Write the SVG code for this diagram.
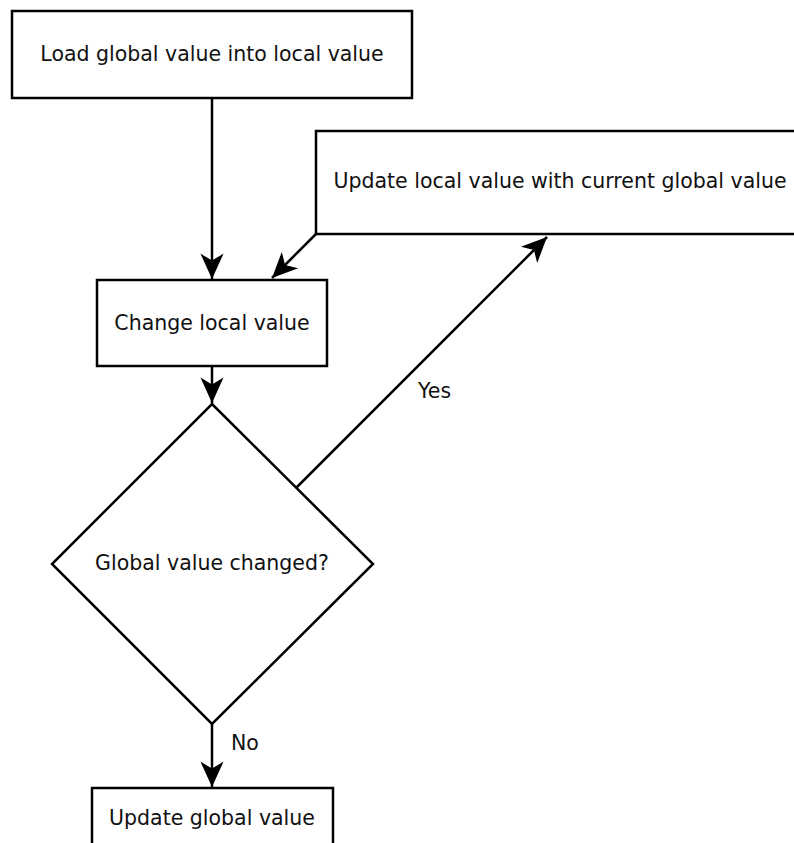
<svg xmlns="http://www.w3.org/2000/svg" width="794" height="843" viewBox="0 0 794 843">
  <style>
    .shape { fill: #ffffff; stroke: #000000; stroke-width: 2.5; }
    .edge { fill: none; stroke: #000000; stroke-width: 2.5; marker-end: url(#arrow); }
    text { font-family: "DejaVu Sans", "Liberation Sans", sans-serif; font-size: 20.5px; fill: #111111; text-anchor: middle; dominant-baseline: central; }
    .lbl { text-anchor: start; }
  </style>
  <defs>
    <marker id="arrow" markerUnits="userSpaceOnUse" markerWidth="30" markerHeight="30" viewBox="-24 -12 26 24" refX="0" refY="0" orient="auto">
      <path d="M0,0 L-22,-10 L-16,0 L-22,10 z" fill="#000000"/>
    </marker>
  </defs>
  <rect width="794" height="843" fill="#ffffff"/>

  <!-- connectors -->
  <g id="connectors">
    <line class="edge" x1="212" y1="98" x2="212" y2="279"/>
    <line class="edge" x1="316" y1="234" x2="272" y2="278"/>
    <line class="edge" x1="212" y1="366" x2="212" y2="403"/>
    <line class="edge" x1="296" y1="488" x2="547" y2="237"/>
    <line class="edge" x1="212" y1="724" x2="212" y2="787"/>
    <text class="lbl" x="418" y="391">Yes</text>
    <text class="lbl" x="231" y="743">No</text>
  </g>

  <g id="load">
    <rect class="shape" x="12" y="11" width="400" height="87"/>
    <text x="212" y="54">Load global value into local value</text>
  </g>

  <g id="update-local">
    <rect class="shape" x="316" y="131" width="490" height="103"/>
    <text x="560" y="181">Update local value with current global value</text>
  </g>

  <g id="change">
    <rect class="shape" x="97" y="280" width="230" height="86"/>
    <text x="212" y="323">Change local value</text>
  </g>

  <g id="decision">
    <polygon class="shape" points="212,404 373,564 212,724 52,564"/>
    <text x="212" y="563">Global value changed?</text>
  </g>

  <g id="update-global">
    <rect class="shape" x="92" y="788" width="241" height="70"/>
    <text x="212" y="818">Update global value</text>
  </g>
</svg>
